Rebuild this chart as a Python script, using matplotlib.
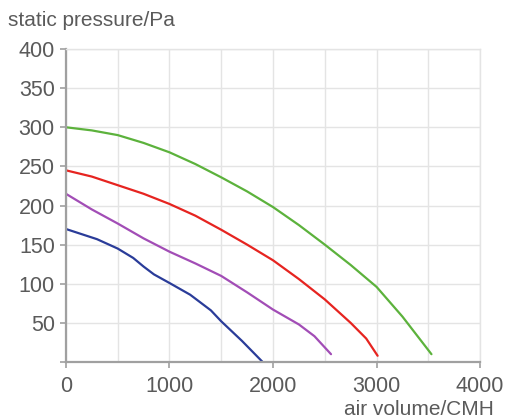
import numpy as np
import matplotlib.pyplot as plt

plt.rcParams['font.family'] = ['Liberation Sans', 'DejaVu Sans']

# fan curves (air volume CMH, static pressure Pa)
green_x = [0, 250, 500, 750, 1000, 1250, 1500, 1750, 2000, 2250, 2500, 2750, 3000, 3250, 3530]
green_y = [300, 296, 290, 280, 268, 253, 236, 218, 198, 175, 150, 124, 96, 58, 10]
red_x = [0, 250, 500, 750, 1000, 1250, 1500, 1750, 2000, 2250, 2500, 2750, 2900, 3010]
red_y = [245, 237, 226, 215, 202, 187, 169, 150, 130, 106, 80, 50, 30, 8]
mag_x = [0, 250, 500, 750, 1000, 1250, 1500, 1750, 2000, 2250, 2400, 2560]
mag_y = [215, 195, 177, 158, 141, 126, 110, 89, 67, 48, 33, 10]
blue_x = [0, 300, 500, 650, 750, 850, 1000, 1200, 1400, 1500, 1700, 1900]
blue_y = [170, 157, 145, 133, 122, 112, 101, 86, 66, 52, 27, 0]

x_ticks = [0, 1000, 2000, 3000, 4000]
y_ticks = [50, 100, 150, 200, 250, 300, 350, 400]

txt = '#5a5a5a'
fig = plt.figure(figsize=(5.07, 4.19), dpi=100)
ax = fig.add_axes([0.130, 0.136, 0.817, 0.747])

ax.plot(green_x, green_y, color='#5cb23c', lw=1.6, solid_capstyle='round')
ax.plot(red_x, red_y, color='#e62420', lw=1.6, solid_capstyle='round')
ax.plot(mag_x, mag_y, color='#a24db6', lw=1.6, solid_capstyle='round')
ax.plot(blue_x, blue_y, color='#2a3c99', lw=1.6, solid_capstyle='round')

ax.set_xlim(0, 4000)
ax.set_ylim(0, 400)
ax.set_xticks(x_ticks)
ax.set_xticks(np.arange(500, 4000, 1000), minor=True)
ax.set_yticks([0] + y_ticks)
ax.set_yticklabels([''] + [str(v) for v in y_ticks])
ax.grid(True, which='both', color='#e4e4e4', lw=1.0)
ax.set_axisbelow(True)

for s in ['top', 'right']:
    ax.spines[s].set_color('#e4e4e4')
    ax.spines[s].set_linewidth(1.0)
for s in ['left', 'bottom']:
    ax.spines[s].set_color('#a0a0a0')
    ax.spines[s].set_linewidth(1.6)

ax.tick_params(axis='both', which='major', length=4, width=1.2, color='#a0a0a0',
               labelsize=15.5, labelcolor=txt)
ax.tick_params(axis='x', which='major', pad=6)
ax.tick_params(axis='y', which='major', pad=4)
ax.tick_params(axis='both', which='minor', length=0)

fig.text(0.016, 0.950, 'static pressure/Pa', fontsize=15, color=txt, ha='left', va='center')
fig.text(0.975, 0.022, 'air volume/CMH', fontsize=15, color=txt, ha='right', va='center')

fig.savefig('out.png', dpi=100)
